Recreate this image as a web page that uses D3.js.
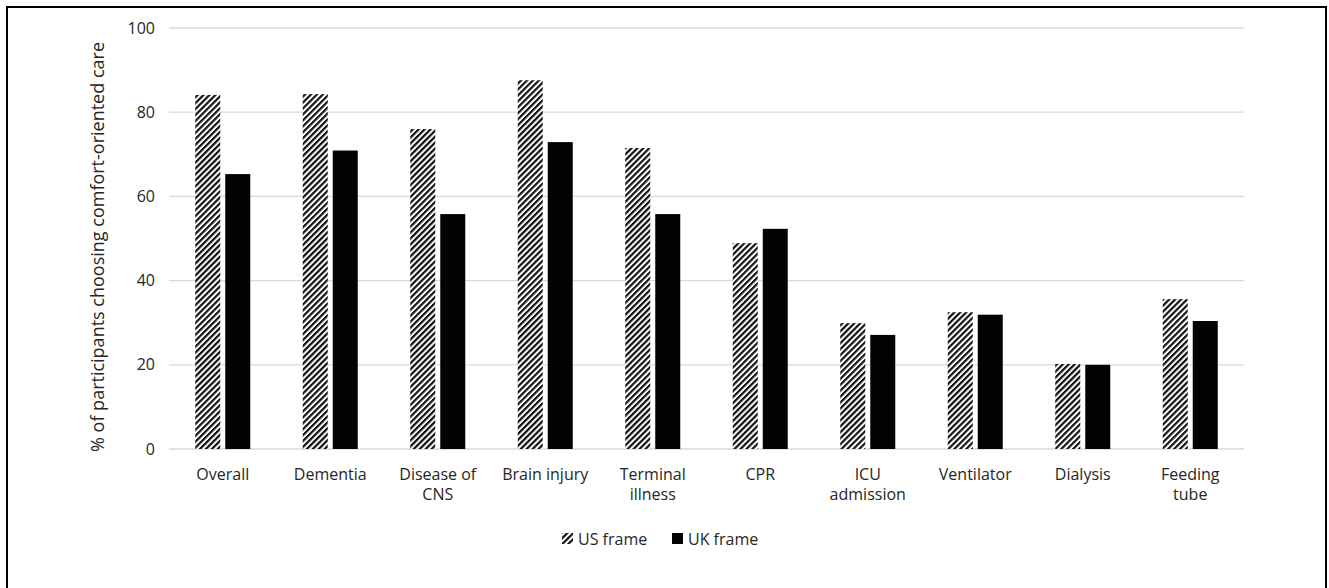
<!DOCTYPE html>
<html><head><meta charset="utf-8">
<script src="https://cdn.jsdelivr.net/npm/d3@7"></script>
<style>body{margin:0;background:#fff;} svg{display:block;font-family:"Open Sans",Lato,"Liberation Sans",sans-serif;}</style>
</head><body>
<svg id="c" width="1329" height="588"></svg>
<script>
const categories = [["Overall"],["Dementia"],["Disease of","CNS"],["Brain injury"],["Terminal","illness"],["CPR"],["ICU","admission"],["Ventilator"],["Dialysis"],["Feeding","tube"]];
const usFrame = [84.1, 84.3, 76.0, 87.6, 71.5, 48.9, 29.9, 32.5, 20.2, 35.6];
const ukFrame = [65.3, 70.9, 55.8, 72.9, 55.8, 52.3, 27.1, 31.9, 20.0, 30.4];
const yTicks = [0, 20, 40, 60, 80, 100];
const seriesNames = ["US frame", "UK frame"];

(function(){
const svg = d3.select("#c");
const defs = svg.append("defs");
const pat = defs.append("pattern").attr("id","hatch").attr("patternUnits","userSpaceOnUse")
  .attr("width",4.2).attr("height",4.2).attr("patternTransform","rotate(45)");
pat.append("rect").attr("width",4.2).attr("height",4.2).attr("fill","#fff");
pat.append("rect").attr("x",0).attr("width",2.2).attr("height",4.2).attr("fill","#111");

svg.append("rect").attr("x",7).attr("y",7).attr("width",1319).attr("height",600)
  .attr("fill","none").attr("stroke","#000").attr("stroke-width",2);

const pL = 169, pR = 1244, pT = 28, pB = 449;
const x = d3.scaleBand().domain(categories.map((d,i)=>i)).range([pL,pR]).padding(0);
const y = d3.scaleLinear().domain([0,100]).range([pB,pT]);

svg.append("g").selectAll("line").data(yTicks).join("line")
  .attr("x1",pL).attr("x2",pR).attr("y1",d=>y(d)).attr("y2",d=>y(d))
  .attr("stroke","#d9d9d9").attr("stroke-width",1.3);

svg.append("g").selectAll("text").data(yTicks).join("text")
  .attr("x",155).attr("y",d=>y(d)).attr("dy","0.35em").attr("text-anchor","end")
  .attr("font-size",16).attr("fill","#262626").text(d=>d);

const bw = 25, gap = 5;
const g = svg.append("g");
g.selectAll(".us").data(usFrame).join("rect")
  .attr("x",(d,i)=>x(i)+x.bandwidth()/2-gap/2-bw).attr("width",bw)
  .attr("y",d=>y(d)).attr("height",d=>y(0)-y(d)).attr("fill","url(#hatch)");
g.selectAll(".uk").data(ukFrame).join("rect")
  .attr("x",(d,i)=>x(i)+x.bandwidth()/2+gap/2).attr("width",bw)
  .attr("y",d=>y(d)).attr("height",d=>y(0)-y(d)).attr("fill","#030303");

const xl = svg.append("g").selectAll("text").data(categories).join("text")
  .attr("x",(d,i)=>x(i)+x.bandwidth()/2).attr("y",480).attr("text-anchor","middle")
  .attr("font-size",16).attr("fill","#262626");
xl.each(function(d){
  const t = d3.select(this);
  d.forEach((s,j)=>t.append("tspan").attr("x",t.attr("x")).attr("dy",j?20:0).text(s));
});

svg.append("text").attr("transform","translate(104,247) rotate(-90)").attr("text-anchor","middle")
  .attr("font-size",18).attr("fill","#262626").text("% of participants choosing comfort-oriented care");

const lg = svg.append("g");
const items = [{n:seriesNames[0],f:"url(#hatch)",x:562},{n:seriesNames[1],f:"#030303",x:672}];
items.forEach(it=>{
  lg.append("rect").attr("x",it.x).attr("y",533).attr("width",11).attr("height",11).attr("fill",it.f);
  lg.append("text").attr("x",it.x+16).attr("y",539).attr("dy","0.35em").attr("font-size",16)
    .attr("fill","#262626").text(it.n);
});
})();
</script>
</body></html>
